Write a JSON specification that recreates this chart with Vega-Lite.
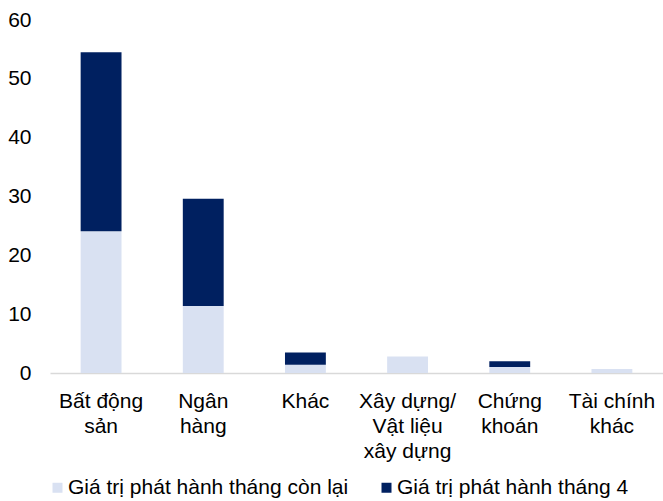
{
  "$schema": "https://vega.github.io/schema/vega-lite/v6.json",
  "autosize": "none",
  "width": 613,
  "height": 353,
  "padding": {"left": 50, "top": 20, "right": 0, "bottom": 128},
  "background": "white",
  "config": {
    "view": {"stroke": null},
    "font": "Liberation Sans"
  },
  "data": {
    "values": [
      {"nganh": "Bất động sản", "loai": "Giá trị phát hành tháng còn lại", "gia_tri": 24.1},
      {"nganh": "Bất động sản", "loai": "Giá trị phát hành tháng 4", "gia_tri": 30.4},
      {"nganh": "Ngân hàng", "loai": "Giá trị phát hành tháng còn lại", "gia_tri": 11.4},
      {"nganh": "Ngân hàng", "loai": "Giá trị phát hành tháng 4", "gia_tri": 18.2},
      {"nganh": "Khác", "loai": "Giá trị phát hành tháng còn lại", "gia_tri": 1.4},
      {"nganh": "Khác", "loai": "Giá trị phát hành tháng 4", "gia_tri": 2.1},
      {"nganh": "Xây dựng/Vật liệu xây dựng", "loai": "Giá trị phát hành tháng còn lại", "gia_tri": 2.8},
      {"nganh": "Xây dựng/Vật liệu xây dựng", "loai": "Giá trị phát hành tháng 4", "gia_tri": 0},
      {"nganh": "Chứng khoán", "loai": "Giá trị phát hành tháng còn lại", "gia_tri": 1.0},
      {"nganh": "Chứng khoán", "loai": "Giá trị phát hành tháng 4", "gia_tri": 1.0},
      {"nganh": "Tài chính khác", "loai": "Giá trị phát hành tháng còn lại", "gia_tri": 0.7},
      {"nganh": "Tài chính khác", "loai": "Giá trị phát hành tháng 4", "gia_tri": 0}
    ]
  },
  "mark": {"type": "bar"},
  "encoding": {
    "x": {
      "field": "nganh",
      "type": "nominal",
      "sort": null,
      "scale": {"paddingInner": 0.6, "paddingOuter": 0.3},
      "axis": {
        "title": null,
        "labelAngle": 0,
        "ticks": false,
        "tickSize": 0,
        "labelPadding": 17,
        "labelFontSize": 21,
        "labelColor": "#000000",
        "labelLineHeight": 25,
        "labelBaseline": "top",
        "labelLimit": 0,
        "domainColor": "#D9D9D9",
        "domainWidth": 1.5,
        "labelExpr": "datum.value == 'Bất động sản' ? ['Bất động', 'sản'] : datum.value == 'Ngân hàng' ? ['Ngân', 'hàng'] : datum.value == 'Xây dựng/Vật liệu xây dựng' ? ['Xây dựng/', 'Vật liệu', 'xây dựng'] : datum.value == 'Chứng khoán' ? ['Chứng', 'khoán'] : datum.value == 'Tài chính khác' ? ['Tài chính', 'khác'] : datum.value"
      }
    },
    "y": {
      "field": "gia_tri",
      "type": "quantitative",
      "stack": "zero",
      "scale": {"domain": [0, 60], "nice": false},
      "axis": {
        "title": null,
        "values": [0, 10, 20, 30, 40, 50, 60],
        "grid": false,
        "domain": false,
        "ticks": false,
        "tickSize": 0,
        "labelPadding": 19,
        "labelFontSize": 21,
        "labelColor": "#000000"
      }
    },
    "color": {
      "field": "loai",
      "type": "nominal",
      "scale": {
        "domain": ["Giá trị phát hành tháng còn lại", "Giá trị phát hành tháng 4"],
        "range": ["#D9E1F2", "#002060"]
      },
      "legend": {
        "title": null,
        "orient": "none",
        "direction": "horizontal",
        "legendX": -3,
        "legendY": 457,
        "symbolType": "square",
        "symbolSize": 100,
        "symbolStrokeWidth": 0,
        "labelFontSize": 21,
        "labelColor": "#000000",
        "labelOffset": 0,
        "labelLimit": 0,
        "columnPadding": 27
      }
    },
    "order": {"field": "loai", "sort": "descending"}
  }
}
